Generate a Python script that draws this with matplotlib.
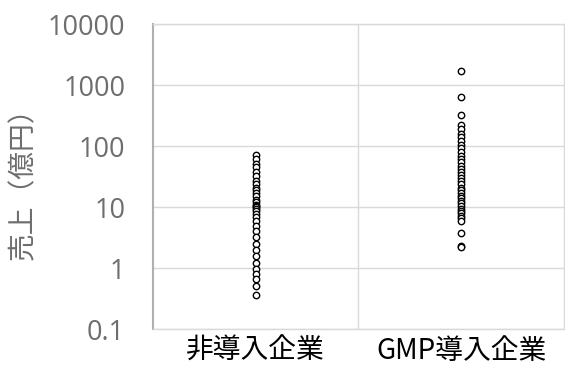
import matplotlib
matplotlib.use('Agg')
import matplotlib.pyplot as plt

# Categories on the x axis
categories = ['非導入企業', 'GMP導入企業']

# Sales (100 million yen) for companies without GMP
non_gmp = [72, 62, 52, 45, 38, 32, 27, 24, 21, 19, 17, 15, 13, 12, 11,
           10.5, 10, 9.2, 8.5, 7.8, 7, 6, 5, 4, 3.2, 2.5, 2, 1.6, 1.2,
           0.95, 0.8, 0.65, 0.5, 0.36]

# Sales for companies with GMP
gmp = [1750, 640, 330, 220, 190, 160, 140, 120, 105, 92, 80, 70, 62, 55,
       48, 43, 38, 34, 30, 27, 24, 21, 19, 17, 15.5, 14, 12.5, 11.5, 10.5,
       9.5, 8.8, 8, 7.3, 6.6, 6, 3.8, 2.3, 2.2]

y_ticks = [0.1, 1, 10, 100, 1000, 10000]
y_tick_labels = ['0.1', '1', '10', '100', '1000', '10000']

fig = plt.figure(figsize=(5.65, 3.65), dpi=100)
ax = fig.add_axes([0.2708, 0.0986, 0.7272, 0.8344])

groups = [non_gmp, gmp]
for i, vals in enumerate(groups):
    ax.plot([i + 1] * len(vals), vals, linestyle='none', marker='o',
            markersize=4.6, markerfacecolor='white', markeredgecolor='black',
            markeredgewidth=1.0, zorder=3)

ax.set_yscale('log')
ax.set_ylim(0.1, 10000)
ax.set_xlim(0.5, 2.5)
ax.set_yticks(y_ticks)
ax.set_yticklabels(y_tick_labels, family=['Open Sans', 'DejaVu Sans'],
                   fontsize=19.5, color='#6e6e6e')
ax.minorticks_off()
ax.set_xticks([1, 2])
ax.set_xticklabels(categories, family=['Noto Sans CJK JP', 'DejaVu Sans'],
                   fontsize=20, color='black')
ax.tick_params(axis='y', length=0, pad=20)
ax.tick_params(axis='x', length=0, pad=5)

grid_c = '#d9d9d9'
ax.grid(axis='y', color=grid_c, linewidth=1, zorder=0)
ax.axvline(1.5, color=grid_c, linewidth=1, zorder=0)
for side in ['top', 'right', 'bottom']:
    ax.spines[side].set_color(grid_c)
    ax.spines[side].set_linewidth(1)
ax.spines['left'].set_color('#b0b0b0')
ax.spines['left'].set_linewidth(1.5)

ax.set_ylabel('売上（億円）', family=['Noto Sans CJK JP', 'DejaVu Sans'],
              fontsize=20, color='#6e6e6e')
ax.yaxis.set_label_coords(-0.28, 0.5)

fig.savefig('out.png', dpi=100)
